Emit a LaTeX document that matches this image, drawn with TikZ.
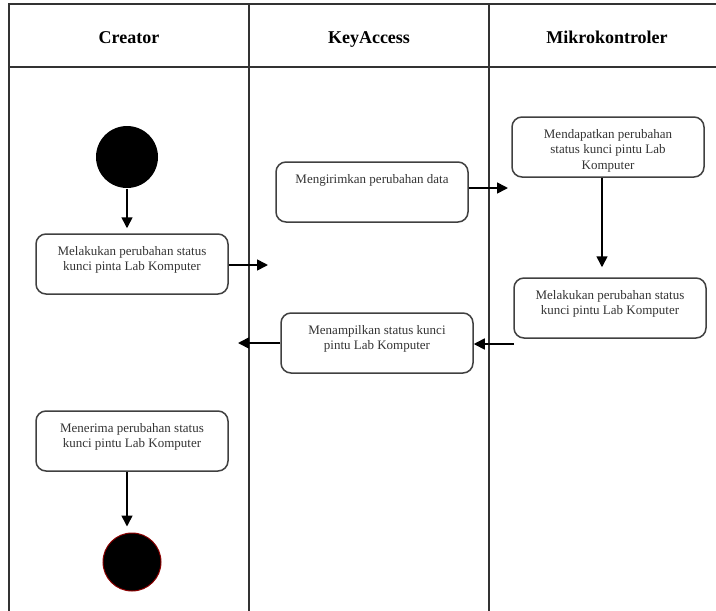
\documentclass[tikz,border=0pt]{standalone}
\usepackage{fontspec}
\setmainfont{Liberation Serif}
\usetikzlibrary{arrows.meta}

\newcommand{\acttext}[1]{\parbox[c][44pt][t]{176pt}{\centering\fontsize{13}{15.5}\selectfont\vspace*{4pt}#1}}

\begin{document}
\begin{tikzpicture}[x=1pt,y=-1pt,line width=1.6pt,>={Triangle[length=11pt,width=11pt]},
  lane/.style={draw=black!80,line width=1.8pt},
  lanehead/.style={font=\fontsize{18}{20}\selectfont\bfseries,anchor=base},
  act/.style={draw=black!75,rounded corners=10pt,inner sep=8pt,text=black!80,line width=1.5pt},
  flow/.style={->,black}]
  \useasboundingbox (0,0) rectangle (716,611);
  % swimlanes
  \draw[lane] (9,611) -- (9,4) -- (716,4);
  \draw[lane] (9,67) -- (716,67);
  \draw[lane] (249,4) -- (249,611);
  \draw[lane] (489,4) -- (489,611);
  \node[lanehead] (hCreator) at (129,43) {Creator};
  \node[lanehead] (hKey) at (369,43) {KeyAccess};
  \node[lanehead] (hMikro) at (607,43) {Mikrokontroler};
  % aktivitas
  \node[circle,fill=black,minimum size=62pt,inner sep=0pt] (start) at (127,157) {};
  \node[act] (ubah) at (132,264) {\acttext{Melakukan perubahan status\\kunci pinta Lab Komputer}};
  \node[act] (kirim) at (372,192) {\acttext{Mengirimkan perubahan data}};
  \node[act] (dapat) at (608,147) {\acttext{Mendapatkan perubahan\\status kunci pintu Lab\\Komputer}};
  \node[act] (ubahM) at (610,308) {\acttext{Melakukan perubahan status\\kunci pintu Lab Komputer}};
  \node[act] (tampil) at (377,343) {\acttext{Menampilkan status kunci\\pintu Lab Komputer}};
  \node[act] (terima) at (132,441) {\acttext{Menerima perubahan status\\kunci pintu Lab Komputer}};
  \node[circle,fill=black,draw=red!55!black,line width=1pt,minimum size=58pt,inner sep=0pt] (stop) at (132,562) {};
  % alur
  \coordinate (ubahOut) at (268,265);
  \coordinate (kirimOut) at (508,188);
  \coordinate (ubahMOut) at (514,344);
  \coordinate (tampilOut) at (238,343);
  \draw[flow,shorten >=5pt] (start.south) -- (start.south |- ubah.north);
  \draw[flow] (ubah.east |- ubahOut) -- (ubahOut);
  \draw[flow] (kirim.east |- kirimOut) -- (kirimOut);
  \draw[flow,shorten >=10pt] ([xshift=-6pt]dapat.south) -- ([xshift=-6pt]dapat.south |- ubahM.north);
  \draw[flow] (ubahMOut) -- (tampil.east |- ubahMOut);
  \draw[flow] (tampil.west) -- (tampilOut);
  \draw[flow,shorten >=6pt] (start |- terima.south) -- (start |- stop.north);
\end{tikzpicture}
\end{document}
